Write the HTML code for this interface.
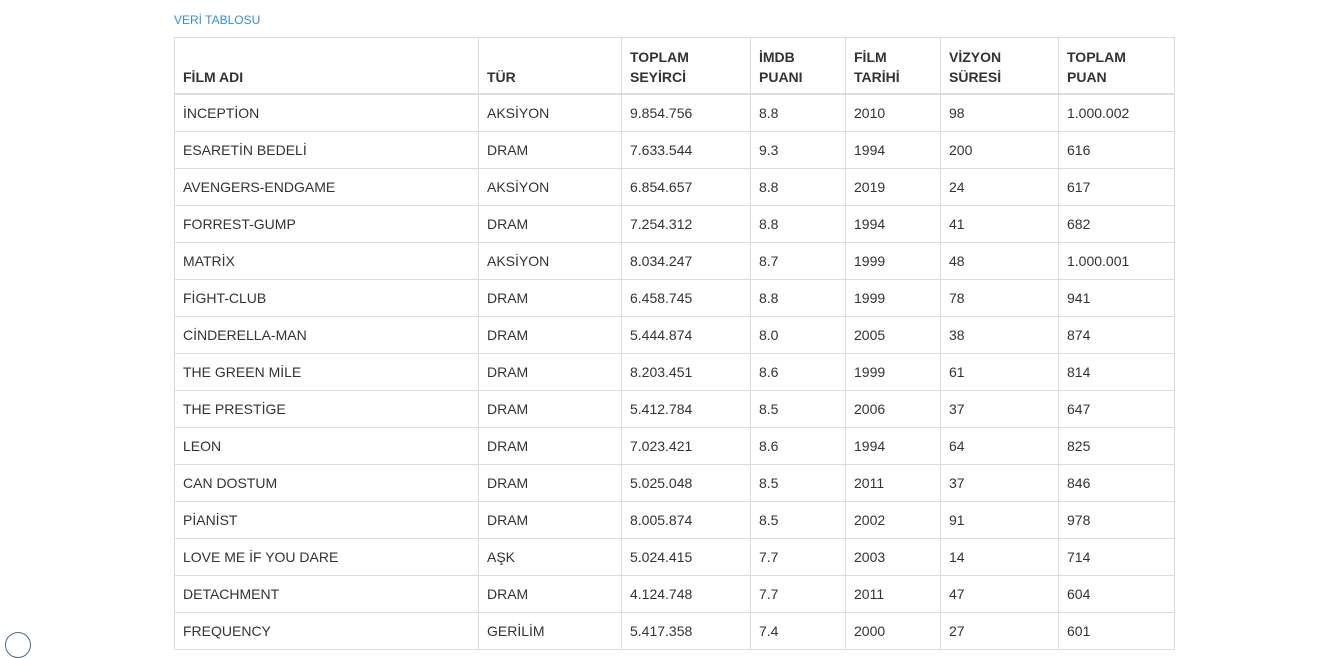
<!DOCTYPE html>
<html><head><meta charset="utf-8"><style>
body{margin:0;width:1324px;height:636px;overflow:hidden;background:#fff;font-family:"Liberation Sans",Arial,sans-serif;color:#333;position:relative}
.title{position:absolute;left:174px;top:13px;font-size:12px;color:#3a8fd0}
table{position:absolute;left:174px;top:37px;border-collapse:collapse;table-layout:fixed;width:1000px;font-size:14px}
th,td{border:1px solid #ddd;padding:0 8px;text-align:left;vertical-align:middle}
th{border-bottom:2px solid #ddd;font-weight:bold;vertical-align:bottom;padding-top:9px;padding-bottom:6px;line-height:20px}
td{height:36px}
.circ{position:absolute;left:5px;top:632px;width:24px;height:24px;border:1.5px solid #4a6a8a;border-radius:50%}
</style></head><body>
<div class="title">VERİ TABLOSU</div>
<table>
<colgroup><col style="width:304px"><col style="width:143px"><col style="width:129px"><col style="width:95px"><col style="width:95px"><col style="width:118px"><col style="width:116px"></colgroup>
<thead><tr>
<th>FİLM ADI</th>
<th>TÜR</th>
<th>TOPLAM<br>SEYİRCİ</th>
<th>İMDB<br>PUANI</th>
<th>FİLM<br>TARİHİ</th>
<th>VİZYON<br>SÜRESİ</th>
<th>TOPLAM<br>PUAN</th>
</tr></thead>
<tbody>
<tr><td>İNCEPTİON</td><td>AKSİYON</td><td>9.854.756</td><td>8.8</td><td>2010</td><td>98</td><td>1.000.002</td></tr>
<tr><td>ESARETİN BEDELİ</td><td>DRAM</td><td>7.633.544</td><td>9.3</td><td>1994</td><td>200</td><td>616</td></tr>
<tr><td>AVENGERS-ENDGAME</td><td>AKSİYON</td><td>6.854.657</td><td>8.8</td><td>2019</td><td>24</td><td>617</td></tr>
<tr><td>FORREST-GUMP</td><td>DRAM</td><td>7.254.312</td><td>8.8</td><td>1994</td><td>41</td><td>682</td></tr>
<tr><td>MATRİX</td><td>AKSİYON</td><td>8.034.247</td><td>8.7</td><td>1999</td><td>48</td><td>1.000.001</td></tr>
<tr><td>FİGHT-CLUB</td><td>DRAM</td><td>6.458.745</td><td>8.8</td><td>1999</td><td>78</td><td>941</td></tr>
<tr><td>CİNDERELLA-MAN</td><td>DRAM</td><td>5.444.874</td><td>8.0</td><td>2005</td><td>38</td><td>874</td></tr>
<tr><td>THE GREEN MİLE</td><td>DRAM</td><td>8.203.451</td><td>8.6</td><td>1999</td><td>61</td><td>814</td></tr>
<tr><td>THE PRESTİGE</td><td>DRAM</td><td>5.412.784</td><td>8.5</td><td>2006</td><td>37</td><td>647</td></tr>
<tr><td>LEON</td><td>DRAM</td><td>7.023.421</td><td>8.6</td><td>1994</td><td>64</td><td>825</td></tr>
<tr><td>CAN DOSTUM</td><td>DRAM</td><td>5.025.048</td><td>8.5</td><td>2011</td><td>37</td><td>846</td></tr>
<tr><td>PİANİST</td><td>DRAM</td><td>8.005.874</td><td>8.5</td><td>2002</td><td>91</td><td>978</td></tr>
<tr><td>LOVE ME İF YOU DARE</td><td>AŞK</td><td>5.024.415</td><td>7.7</td><td>2003</td><td>14</td><td>714</td></tr>
<tr><td>DETACHMENT</td><td>DRAM</td><td>4.124.748</td><td>7.7</td><td>2011</td><td>47</td><td>604</td></tr>
<tr><td>FREQUENCY</td><td>GERİLİM</td><td>5.417.358</td><td>7.4</td><td>2000</td><td>27</td><td>601</td></tr>
</tbody></table>
<div class="circ"></div>
</body></html>
